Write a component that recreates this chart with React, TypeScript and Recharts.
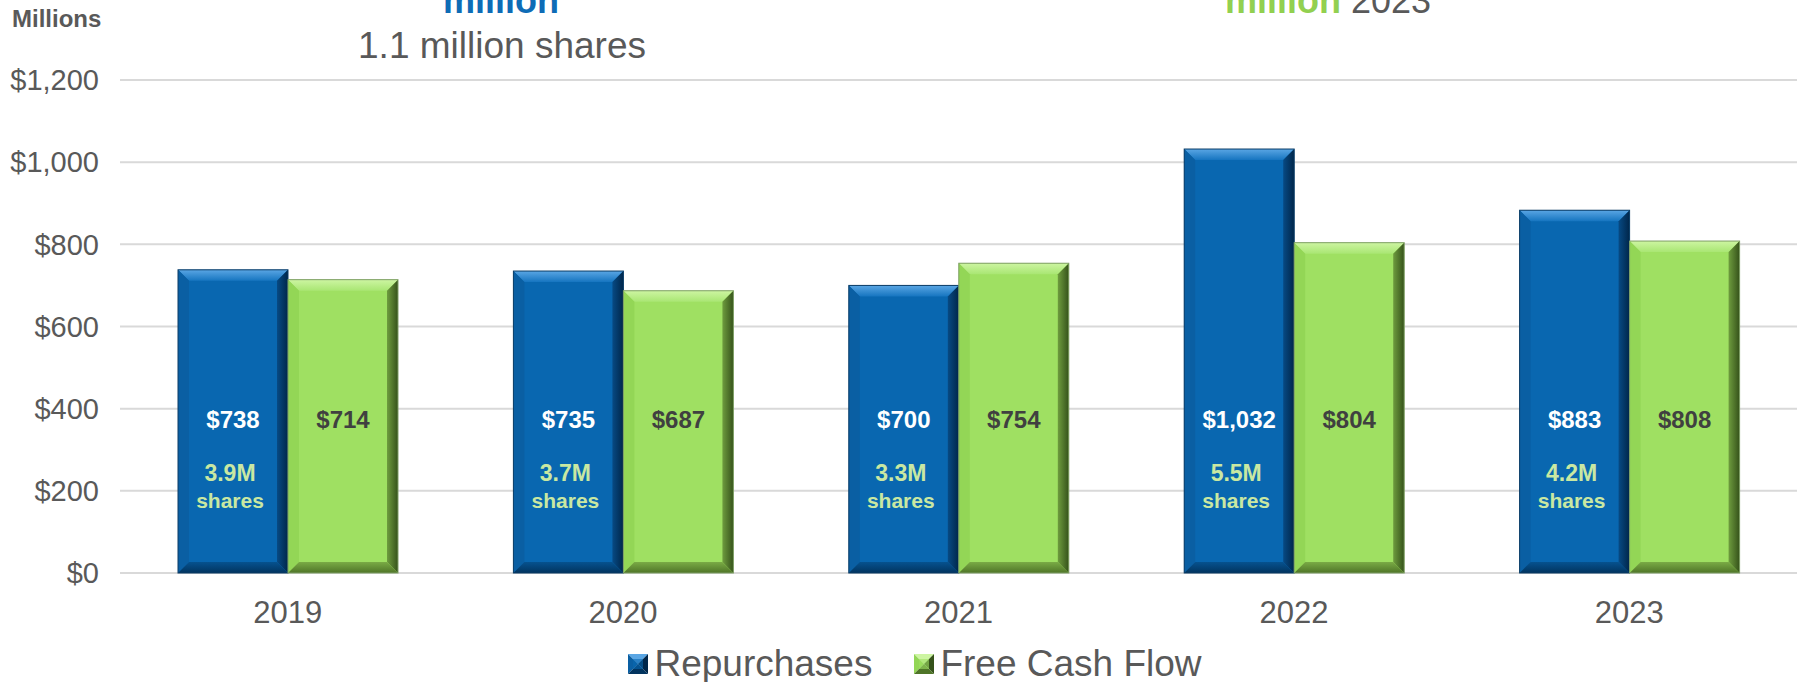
import {
  Bar,
  BarChart,
  CartesianGrid,
  LabelList,
  Legend,
  XAxis,
  YAxis,
} from "recharts";

// values, $ millions
const years = ["2019", "2020", "2021", "2022", "2023"];
const repurchases = [738, 735, 700, 1032, 883];
const freeCashFlow = [714, 687, 754, 804, 808];
const sharesBought = ["3.9M", "3.7M", "3.3M", "5.5M", "4.2M"];
const yTicks = [0, 200, 400, 600, 800, 1000, 1200];

const data = years.map((year, i) => ({
  year,
  repurchases: repurchases[i],
  fcf: freeCashFlow[i],
  shares: sharesBought[i],
}));

const FONT = '"Liberation Sans", Arial, Helvetica, sans-serif';
const GRAY = "#595959";

type Palette = {
  id: string;
  face: string;
  top: [string, string];
  left: string;
  right: [string, string];
  bottom: [string, string];
  stroke: string;
};

const BLUE: Palette = {
  id: "blue",
  face: "#0967b0",
  top: ["#5aa6e4", "#1675c0"],
  left: "#0a5fa3",
  right: ["#074a84", "#00264a"],
  bottom: ["#06528f", "#02345f"],
  stroke: "#0c3d66",
};

const GREEN: Palette = {
  id: "green",
  face: "#9fe062",
  top: ["#cdf5a2", "#a9e673"],
  left: "#93d656",
  right: ["#6e9c3e", "#35521a"],
  bottom: ["#7aab45", "#4f7528"],
  stroke: "#7f9f66",
};

function Gradients({ p }: { p: Palette }) {
  return (
    <>
      <linearGradient id={`${p.id}-top`} x1="0" y1="0" x2="0" y2="1">
        <stop offset="0" stopColor={p.top[0]} />
        <stop offset="1" stopColor={p.top[1]} />
      </linearGradient>
      <linearGradient id={`${p.id}-right`} x1="0" y1="0" x2="1" y2="0">
        <stop offset="0" stopColor={p.right[0]} />
        <stop offset="1" stopColor={p.right[1]} />
      </linearGradient>
      <linearGradient id={`${p.id}-bottom`} x1="0" y1="0" x2="0" y2="1">
        <stop offset="0" stopColor={p.bottom[0]} />
        <stop offset="1" stopColor={p.bottom[1]} />
      </linearGradient>
    </>
  );
}

// bevelled bar like the PowerPoint "angle" effect
const bevelBar = (p: Palette) => (props: any) => {
  const { x, y, width: w, height: h } = props;
  if (!h || h <= 0) return null;
  const b = Math.min(11, w / 2, h / 2);
  const pts = (arr: number[][]) => arr.map((q) => q.join(",")).join(" ");
  return (
    <g>
      <rect x={x} y={y} width={w} height={h} fill={p.face} />
      <polygon
        points={pts([[x, y], [x + w, y], [x + w - b, y + b], [x + b, y + b]])}
        fill={`url(#${p.id}-top)`}
      />
      <polygon
        points={pts([[x, y], [x + b, y + b], [x + b, y + h - b], [x, y + h]])}
        fill={p.left}
      />
      <polygon
        points={pts([[x + w - b, y + b], [x + w, y], [x + w, y + h], [x + w - b, y + h - b]])}
        fill={`url(#${p.id}-right)`}
      />
      <polygon
        points={pts([[x + b, y + h - b], [x + w - b, y + h - b], [x + w, y + h], [x, y + h]])}
        fill={`url(#${p.id}-bottom)`}
      />
      <rect x={x} y={y} width={w} height={h} fill="none" stroke={p.stroke} strokeWidth={1} />
    </g>
  );
};

const dollars = (v: number) => "$" + v.toLocaleString("en-US");

const valueLabel = (color: string) => (props: any) => {
  const { x, y, width, height, value } = props;
  return (
    <text
      x={x + width / 2}
      y={y + height - 154}
      textAnchor="middle"
      dominantBaseline="central"
      fontFamily={FONT}
      fontWeight="bold"
      fontSize={24}
      fill={color}
    >
      {dollars(value)}
    </text>
  );
};

const sharesLabel = (props: any) => {
  const { x, y, width, height, value } = props;
  const cx = x + width / 2 - 3;
  const bottom = y + height;
  return (
    <g fontFamily={FONT} fontWeight="bold" fill="#c9e8a2" textAnchor="middle">
      <text x={cx} y={bottom - 100} dominantBaseline="central" fontSize={23}>
        {value}
      </text>
      <text x={cx} y={bottom - 73} dominantBaseline="central" fontSize={21}>
        shares
      </text>
    </g>
  );
};

function LegendIcon({ p }: { p: Palette }) {
  const s = 20;
  const m = s / 2;
  return (
    <svg width={s} height={s} style={{ display: "block" }}>
      <polygon points={`0,0 ${s},0 ${m},${m}`} fill={p.top[0]} />
      <polygon points={`0,0 ${m},${m} 0,${s}`} fill={p.left} />
      <polygon points={`${s},0 ${s},${s} ${m},${m}`} fill={p.right[1]} />
      <polygon points={`0,${s} ${s},${s} ${m},${m}`} fill={p.bottom[1]} />
      <rect x={5} y={5} width={s - 10} height={s - 10} fill={p.face} opacity={0.6} />
    </svg>
  );
}

const legendItems = [
  { name: "Repurchases", palette: BLUE },
  { name: "Free Cash Flow", palette: GREEN },
];

function renderLegend() {
  return (
    <div
      style={{
        display: "flex",
        justifyContent: "center",
        alignItems: "center",
        paddingLeft: 24,
        fontFamily: FONT,
        fontSize: 37,
        lineHeight: "37px",
        color: GRAY,
      }}
    >
      {legendItems.map((it, i) => (
        <div
          key={it.name}
          style={{ display: "flex", alignItems: "center", marginLeft: i ? 42 : 0 }}
        >
          <LegendIcon p={it.palette} />
          <span style={{ marginLeft: 6 }}>{it.name}</span>
        </div>
      ))}
    </div>
  );
}

export default function App() {
  return (
    <div style={{ position: "absolute", left: 0, top: 0, width: 1806, height: 682, background: "#fff" }}>
      <BarChart
        width={1806}
        height={682}
        data={data}
        margin={{ top: 80, right: 9, bottom: 49, left: 0 }}
        barCategoryGap={58}
        barGap={0}
      >
        <defs>
          <Gradients p={BLUE} />
          <Gradients p={GREEN} />
        </defs>
        <CartesianGrid vertical={false} stroke="#d9d9d9" strokeWidth={2} />
        <XAxis
          dataKey="year"
          height={60}
          axisLine={false}
          tickLine={false}
          tickSize={0}
          tickMargin={28}
          tick={{ fill: GRAY, fontSize: 31, fontFamily: FONT }}
        />
        <YAxis
          width={120}
          domain={[0, 1200]}
          ticks={yTicks}
          axisLine={false}
          tickLine={false}
          tickSize={0}
          tickMargin={21}
          tickFormatter={dollars}
          tick={{ fill: GRAY, fontSize: 29, fontFamily: FONT }}
        />
        <Legend
          verticalAlign="middle"
          align="center"
          layout="horizontal"
          wrapperStyle={{ top: 645, left: 0, width: 1806, height: 37 }}
          content={renderLegend}
        />
        <Bar dataKey="repurchases" name="Repurchases" shape={bevelBar(BLUE)} isAnimationActive={false}>
          <LabelList dataKey="repurchases" content={valueLabel("#ffffff")} />
          <LabelList dataKey="shares" content={sharesLabel} />
        </Bar>
        <Bar dataKey="fcf" name="Free Cash Flow" shape={bevelBar(GREEN)} isAnimationActive={false}>
          <LabelList dataKey="fcf" content={valueLabel("#404040")} />
        </Bar>
      </BarChart>

      {/* headline fragments cut off at the top of the slide, plus the unit note */}
      <svg
        width={1806}
        height={682}
        style={{ position: "absolute", left: 0, top: 0, pointerEvents: "none" }}
        fontFamily={FONT}
      >
        <text x={12} y={27} fontSize={24} fontWeight="bold" fill={GRAY}>
          Millions
        </text>
        <text x={501} y={13} fontSize={36} fontWeight="bold" fill="#0e6cb6" textAnchor="middle">
          million
        </text>
        <text x={502} y={58} fontSize={37} fill={GRAY} textAnchor="middle">
          1.1 million shares
        </text>
        <text x={1225} y={13} fontSize={36}>
          <tspan fontWeight="bold" fill="#92d050">
            million
          </tspan>
          <tspan fill={GRAY}> 2023</tspan>
        </text>
      </svg>
    </div>
  );
}
